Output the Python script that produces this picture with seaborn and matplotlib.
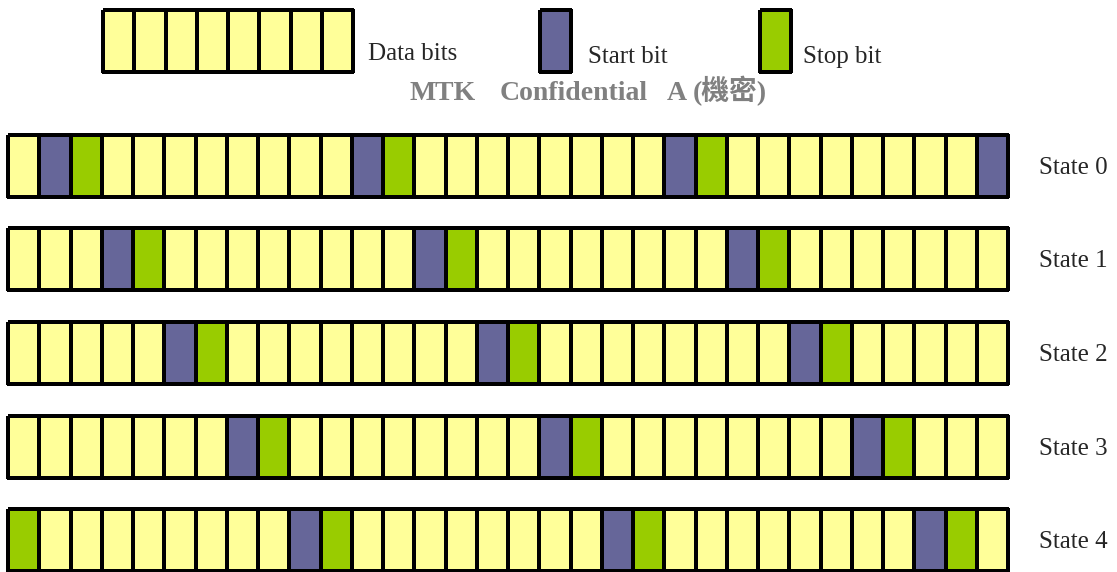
import numpy as np
import matplotlib
matplotlib.use('Agg')
import matplotlib.pyplot as plt
import seaborn as sns
from matplotlib.colors import ListedColormap

# Bit frame data: 0 = data bit, 1 = start bit, 2 = stop bit
n_bits = 32
state_labels = ['State 0', 'State 1', 'State 2', 'State 3', 'State 4']
start_cols = [[1, 11, 21, 31], [3, 13, 23], [5, 15, 25], [7, 17, 27], [9, 19, 29]]
stop_cols = [[2, 12, 22], [4, 14, 24], [6, 16, 26], [8, 18, 28], [0, 10, 20, 30]]
legend_labels = ['Data bits', 'Start bit', 'Stop bit']
legend_counts = [8, 1, 1]
title_words = ['MTK', 'Confidential', 'A', '(機密)']

colors = ['#FFFF99', '#666699', '#99CC00']
cmap = ListedColormap(colors)

W, H = 1117, 572
fig = plt.figure(figsize=(W / 100, H / 100), dpi=100)
sns.set_style('white')
fam = ['Liberation Serif', 'Noto Sans CJK TC', 'DejaVu Sans']


def px_axes(x0, y0, w, h):
    # position given in pixels from top-left
    return fig.add_axes([x0 / W, 1 - (y0 + h) / H, w / W, h / H])


def draw_cells(ax, codes):
    sns.heatmap(np.array([codes]), ax=ax, cmap=cmap, vmin=-0.5, vmax=2.5,
                cbar=False, linewidths=1.5, linecolor='black',
                xticklabels=False, yticklabels=False)
    ax.collections[0].set_clip_on(False)
    for s in ax.spines.values():
        s.set_visible(False)


# state rows
row_tops = [135, 228, 322, 416, 509]
for i, label in enumerate(state_labels):
    codes = np.zeros(n_bits, dtype=int)
    codes[start_cols[i]] = 1
    codes[stop_cols[i]] = 2
    ax = px_axes(8, row_tops[i], 1000, 62)
    draw_cells(ax, codes)
    fig.text(1039 / W, 1 - (row_tops[i] + 33) / H, label, family=fam,
             fontsize=18, va='center', ha='left')

# legend boxes
leg_x = [103, 540, 760]
leg_text_x = [368, 588, 803]
leg_text_y = [60, 63, 63]
for k in range(3):
    ax = px_axes(leg_x[k], 10, 31.25 * legend_counts[k], 62)
    draw_cells(ax, [k] * legend_counts[k])
    fig.text(leg_text_x[k] / W, 1 - leg_text_y[k] / H, legend_labels[k],
             family=fam, fontsize=18, va='baseline', ha='left')

# watermark title, word by word to match the spacing
title_x = [410, 500, 667, 693]
for word, tx in zip(title_words, title_x):
    fig.text(tx / W, 1 - 100 / H, word, family=fam, fontsize=20,
             fontweight='bold', color='#808080', va='baseline', ha='left')

fig.savefig('out.png', dpi=100)
